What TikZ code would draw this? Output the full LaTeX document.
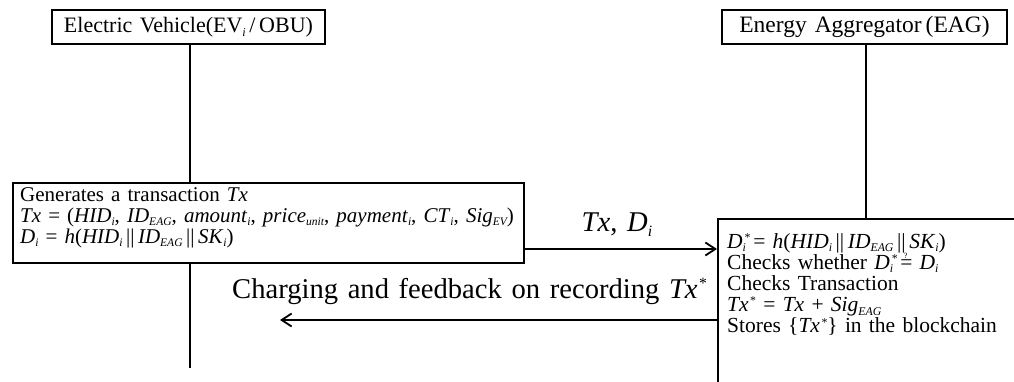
\documentclass[tikz,border=0pt]{standalone}
\usepackage{fontspec}
\setmainfont{Liberation Serif}[WordSpace=1.35]
\usetikzlibrary{arrows.meta}
\makeatletter
\newcommand{\myrel}{\fontsize{\the\dimexpr 0.55\dimexpr\f@size pt\relax\relax}{1pt}\selectfont}
\makeatother
\newcommand{\mytight}{\lineskiplimit=-100pt\relax}
\newcommand{\mysub}[1]{\raisebox{-0.17em}{\myrel\itshape #1}}
\newcommand{\mysup}[1]{\raisebox{0.32em}{\myrel #1}}
\newcommand{\myvs}[2]{\textit{#1}\mysub{#2}}
\newcommand{\myvss}[3]{\textit{#1}\rlap{\kern2pt\mysup{#3}}\mysub{#2}}
\newcommand{\myvp}[2]{\textit{#1}\kern1.5pt\mysup{#2}}
\newcommand{\myqeq}{\rlap{\kern3.5pt\raisebox{0.48em}{\fontsize{8}{8}\selectfont ?}}=}
\tikzset{
  header/.style={draw, line width=2.6pt, inner sep=0pt},
  procbox/.style={draw, line width=1.8pt, inner sep=0pt, anchor=north west},
  boxtext/.style={anchor=north west, align=left, inner sep=0pt},
  lifeline/.style={line width=1.8pt},
  msg/.style={line width=1.8pt, -{Straight Barb[length=10pt,width=13pt,line width=1.8pt]}},
  msglabel/.style={inner sep=0pt, font=\fontsize{28.6}{28.6}\selectfont}
}
\begin{document}
\begin{tikzpicture}[x=1pt,y=-1pt]
\useasboundingbox (0,0) rectangle (1014,382);
\clip (0,0) rectangle (1014,382);
% headers
\node[header, minimum width=273pt, minimum height=34pt, font=\fontsize{22}{22}\selectfont] (evh) at (188.5,27) {Electric Vehicle(EV\mysub{i}\,/\,OBU)};
\node[header, minimum width=285pt, minimum height=34pt, font=\fontsize{23.5}{23.5}\selectfont] (eagh) at (864.5,27) {Energy Aggregator\,(EAG)};
% process boxes
\node[procbox, minimum width=511pt, minimum height=80pt] (evbox) at (12,182) {};
\node[procbox, minimum width=320pt, minimum height=200pt] (eagbox) at (717,218) {};
% lifelines
\coordinate (evtop) at (190,182);
\coordinate (evend) at (190,368);
\coordinate (eagtop) at (866,218);
\draw[lifeline] (evh.south -| evtop) -- (evtop);
\draw[lifeline] (evbox.south -| evend) -- (evend);
\draw[lifeline] (eagh.south -| eagtop) -- (eagtop);
% box texts
\node[boxtext, font=\fontsize{21}{21}\selectfont\mytight] (evtxt) at (20,187) {%
Generates a transaction \textit{Tx}\\
\textit{Tx} = (\myvs{HID}{i}, \myvs{ID}{EAG}, \myvs{amount}{i}, \myvs{price}{unit}, \myvs{payment}{i}, \myvs{CT}{i}, \myvs{Sig}{EV})\\
\myvs{D}{i} = \textit{h}(\myvs{HID}{i}\,||\,\myvs{ID}{EAG}\,||\,\myvs{SK}{i})};
\node[boxtext, font=\fontsize{21.5}{21.2}\selectfont\mytight] (eagtxt) at (727,233) {%
\myvss{D}{i}{*} = \textit{h}(\myvs{HID}{i}\,||\,\myvs{ID}{EAG}\,||\,\myvs{SK}{i})\\
Checks whether \myvss{D}{i}{*} \myqeq{} \myvs{D}{i}\\
Checks Transaction\\
\myvp{Tx}{*} = \textit{Tx} + \myvs{Sig}{EAG}\\
Stores \{\myvp{Tx}{*}\} in the blockchain};
% messages
\coordinate (m1) at (0,249);
\coordinate (m2) at (280,320);
\draw[msg] (evbox.east |- m1) -- (eagbox.west |- m1) node[msglabel, midway, above=12pt, xshift=-4pt] (l1) {\textit{Tx}, \myvs{D}{i}};
\draw[msg] (eagbox.west |- m2) -- (m2);
\node[msglabel, anchor=base west] (l2) at (232,298) {Charging and feedback on recording \myvp{Tx}{*}};
\end{tikzpicture}
\end{document}
